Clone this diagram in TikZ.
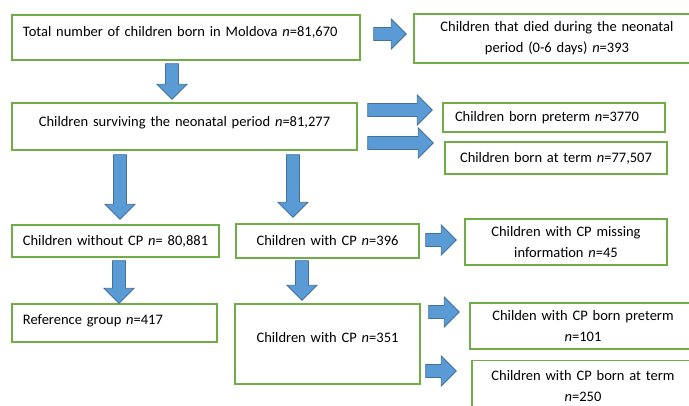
\documentclass[tikz,border=0pt]{standalone}
\usepackage{fontspec}
\setmainfont{Carlito}
\usepackage{tikz}
\usetikzlibrary{calc}
\definecolor{boxgreen}{HTML}{70AD47}
\definecolor{arrowfill}{HTML}{5B9BD5}
\definecolor{arrowedge}{HTML}{41719C}
\tikzset{
  flowbox/.style = {draw = boxgreen, line width = 1.4pt, inner sep = 0pt, align = center, font = \fontsize{14.5}{21}\selectfont},
  leftbox/.style = {flowbox, align = left},
  raised/.style = {text height = 10pt, text depth = #1},
  fat/.style = {draw = arrowedge, fill = arrowfill, line width = 0.8pt, line join = miter,
    to path = {($(\tikztostart)!6.5pt!90:(\tikztotarget)$)
      -- ($(\tikztotarget)!15pt!(\tikztostart)!6.5pt!90:(\tikztotarget)$)
      -- ($(\tikztotarget)!15pt!(\tikztostart)!15pt!90:(\tikztotarget)$)
      -- (\tikztotarget)
      -- ($(\tikztotarget)!15pt!(\tikztostart)!15pt!-90:(\tikztotarget)$)
      -- ($(\tikztotarget)!15pt!(\tikztostart)!6.5pt!-90:(\tikztotarget)$)
      -- ($(\tikztostart)!6.5pt!-90:(\tikztotarget)$) -- cycle}}
}
\begin{document}
\begin{tikzpicture}[x=1pt, y=-1pt]
  \useasboundingbox[fill = white] (0,0) rectangle (689,405);
  \node [leftbox, raised = 12pt, minimum width = 348, minimum height = 45, text width = 326] (total) at (186,37.5)
    {Total number of children born in Moldova \textit{n}=81,670};
  \node [flowbox, minimum width = 286, minimum height = 49, text width = 266] (died) at (557,38.5)
    {Children that died during the neonatal\\ period (0-6 days) \textit{n}=393};
  \node [flowbox, raised = 10pt, minimum width = 345, minimum height = 47, text width = 325] (surv) at (184.5,126.5)
    {Children surviving the neonatal period \textit{n}=81,277};
  \node [leftbox, minimum width = 222, minimum height = 29, text width = 198] (preterm) at (554,117.5)
    {Children born preterm \textit{n}=3770};
  \node [flowbox, minimum width = 222, minimum height = 32, text width = 202] (term) at (556,158)
    {Children born at term \textit{n}=77,507};
  \node [flowbox, minimum width = 207, minimum height = 32, text width = 190] (nocp) at (115.5,241)
    {Children without CP \textit{n}= 80,881};
  \node [flowbox, minimum width = 183, minimum height = 34, text width = 165] (cp) at (327.5,241)
    {Children with CP \textit{n}=396};
  \node [flowbox, minimum width = 202, minimum height = 46, text width = 185] (missing) at (566,242)
    {Children with CP missing\\ information \textit{n}=45};
  \node [leftbox, raised = 7pt, minimum width = 205, minimum height = 38, text width = 183] (refgroup) at (114.5,323)
    {Reference group \textit{n}=417};
  \node [flowbox, raised = 13pt, minimum width = 185, minimum height = 80, text width = 165] (cpall) at (327.5,344)
    {Children with CP \textit{n}=351};
  \node [flowbox, minimum width = 226, minimum height = 46, text width = 210] (cppre) at (583,326)
    {Childen with CP born preterm\\ \textit{n}=101};
  \node [flowbox, minimum width = 222, minimum height = 51, text width = 206] (cpterm) at (583,386)
    {Children with CP born at term\\ \textit{n}=250};

  \draw [fat] ($(total.east)+(13,-3.5)$) to ($(died.west)+(-7,-4.5)$);
  \draw [fat] ($(total.south)+(-14,3)$) to ($(surv.north)+(-12.5,-3)$);
  \draw [fat] ($(surv.east)+(10,-16.5)$) to ($(preterm.west)+(-10,-7.5)$);
  \draw [fat] ($(surv.east)+(10,16.5)$) to ($(term.west)+(-11,-15)$);
  \draw [fat] ($(surv.south)+(-64.5,4)$) to ($(nocp.north)+(4.5,-5)$);
  \draw [fat] ($(surv.south)+(108.5,4)$) to ($(cp.north)+(-34.5,-6)$);
  \draw [fat] ($(cp.east)+(6,-1)$) to ($(missing.west)+(-8,-2)$);
  \draw [fat] ($(nocp.south)+(3.5,3)$) to ($(refgroup.north)+(4.5,0)$);
  \draw [fat] ($(cp.south)+(-25.5,2)$) to ($(cpall.north)+(-25.5,-3)$);
  \draw [fat] ($(cpall.east)+(8,-32)$) to ($(cppre.west)+(-10,-14)$);
  \draw [fat] ($(cpall.east)+(5,27)$) to ($(cpterm.west)+(-15,-15)$);
\end{tikzpicture}
\end{document}
